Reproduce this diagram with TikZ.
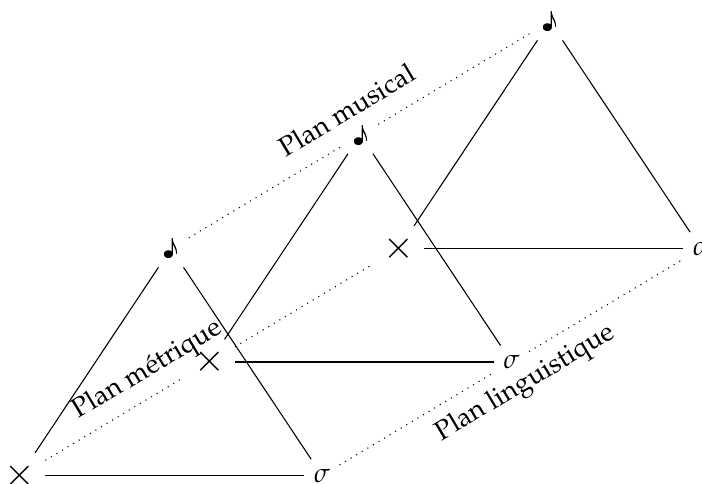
\documentclass[tikz,border=0pt]{standalone}
\usepackage[T1]{fontenc}
\usepackage{mathpazo}
\newcommand\mynote{{\fontfamily{lmr}\selectfont\textmusicalnote}}
\newcommand\mycross{\scalebox{1.4}{$\times$}}
\begin{document}
\begin{tikzpicture}[x=0.37pt,y=-0.37pt,
  vtx/.style={inner sep=3.33pt},
  edge/.style={line width=0.4pt},
  plane/.style={dotted},
  lbl/.style={rotate=30.9, inner sep=0pt}]
\useasboundingbox (0,0) rectangle (702,484);
% triangle 1
\node[vtx] (x1) at (20,475.5) {\mycross};
\node[vtx] (s1) at (322,475.5) {$\sigma$};
\node[vtx] (n1) at (171,248.5) {\mynote};
% triangle 2
\node[vtx] (x2) at (209.5,362) {\mycross};
\node[vtx] (s2) at (511.5,362) {$\sigma$};
\node[vtx] (n2) at (360.5,135) {\mynote};
% triangle 3
\node[vtx] (x3) at (399,248.5) {\mycross};
\node[vtx] (s3) at (701,248.5) {$\sigma$};
\node[vtx] (n3) at (550,21.5) {\mynote};
% sides
\foreach \i in {1,2,3}{
  \draw[edge] (x\i) -- (s\i);
  \draw[edge] (x\i) -- (n\i);
  \draw[edge] (n\i) -- (s\i);
}
% planes
\draw[plane] (x1) -- (x2);
\draw[plane] (x2) -- (x3);
\draw[plane] (s1) -- (s2);
\draw[plane] (s2) -- (s3);
\draw[plane] (n1) -- (n2);
\draw[plane] (n2) -- (n3);
% labels
\node[lbl] (lm) at (147.5,370.5) {Plan m\'etrique};
\node[lbl] (lmu) at (346.5,110) {Plan musical};
\node[lbl] (ll) at (525.5,384) {Plan linguistique};
\end{tikzpicture}
\end{document}
